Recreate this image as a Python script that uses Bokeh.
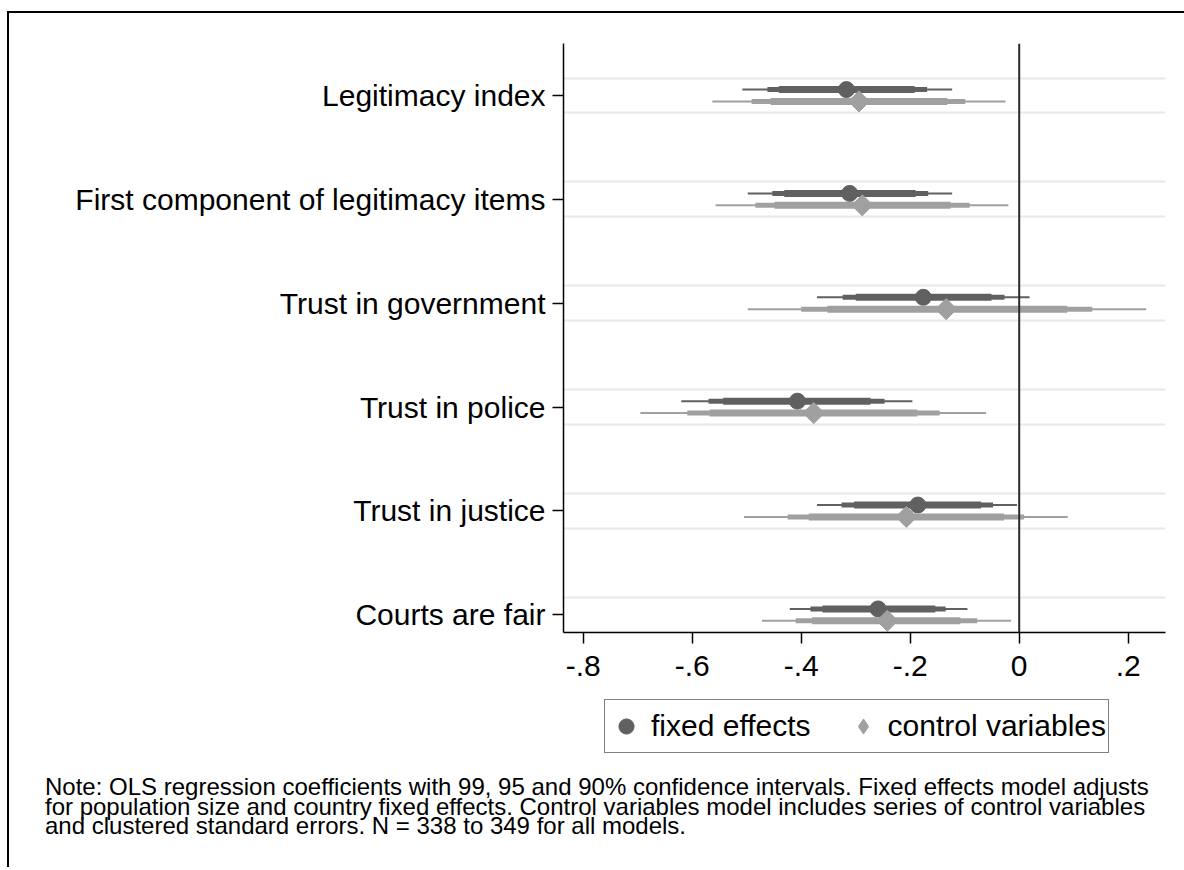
import numpy as np
from bokeh.plotting import figure
from bokeh.layouts import column
from bokeh.models import Range1d, FixedTicker, Span, Legend, LegendItem, Div
from bokeh.embed import file_html
from bokeh.resources import INLINE

categories = ["Legitimacy index", "First component of legitimacy items",
              "Trust in government", "Trust in police", "Trust in justice",
              "Courts are fair"]

fe_coef = [-0.317, -0.311, -0.176, -0.407, -0.186, -0.259]
fe_lo99 = [-0.508, -0.498, -0.371, -0.620, -0.371, -0.421]
fe_hi99 = [-0.123, -0.123, 0.019, -0.196, -0.004, -0.095]
fe_lo95 = [-0.462, -0.453, -0.324, -0.570, -0.326, -0.383]
fe_hi95 = [-0.169, -0.167, -0.027, -0.247, -0.048, -0.135]
fe_lo90 = [-0.441, -0.431, -0.300, -0.543, -0.303, -0.361]
fe_hi90 = [-0.192, -0.190, -0.051, -0.273, -0.070, -0.154]

cv_coef = [-0.294, -0.288, -0.134, -0.377, -0.207, -0.242]
cv_lo99 = [-0.563, -0.557, -0.498, -0.695, -0.505, -0.472]
cv_hi99 = [-0.025, -0.020, 0.233, -0.061, 0.089, -0.015]
cv_lo95 = [-0.491, -0.484, -0.400, -0.609, -0.425, -0.410]
cv_hi95 = [-0.099, -0.091, 0.134, -0.146, 0.009, -0.077]
cv_lo90 = [-0.456, -0.449, -0.352, -0.568, -0.386, -0.380]
cv_hi90 = [-0.132, -0.126, 0.088, -0.187, -0.028, -0.108]

x_ticks = [-0.8, -0.6, -0.4, -0.2, 0, 0.2]
x_tick_labels = ["-.8", "-.6", "-.4", "-.2", "0", ".2"]

series_names = ["fixed effects", "control variables"]

note_lines = [
    "Note: OLS regression coefficients with 99, 95 and 90% confidence intervals. Fixed effects model adjusts",
    "for population size and country fixed effects. Control variables model includes series of control variables",
    "and clustered standard errors. N = 338 to 349 for all models.",
]

FONT = "Liberation Sans"
DARK = "#606060"
LIGHT = "#a0a0a0"

rows = np.arange(1, len(categories) + 1)
OFF = 0.057

# ---------------- main coefficient plot ----------------
p = figure(frame_width=602, frame_height=589, output_backend="svg", toolbar_location=None,
           x_range=Range1d(-0.8361, 0.2684), y_range=Range1d(6.17, 0.4995),
           min_border_left=554, min_border_right=19, min_border_top=30,
           min_border_bottom=62)
p.outline_line_color = None
p.background_fill_color = "white"
p.border_fill_color = "white"
p.xgrid.visible = False
p.ygrid.visible = False

# light horizontal gridlines around each row
grid_pos = list(rows - 0.168) + list(rows + 0.168)
p.hspan(y=grid_pos, line_color="#e8e8e8", line_width=2)

y_fe = list(rows - OFF)
y_cv = list(rows + OFF)

def draw_cis(fig, lo99, hi99, lo95, hi95, lo90, hi90, ys, color):
    fig.segment(x0=lo99, x1=hi99, y0=ys, y1=ys, line_color=color, line_width=2)
    fig.segment(x0=lo95, x1=hi95, y0=ys, y1=ys, line_color=color, line_width=5)
    fig.segment(x0=lo90, x1=hi90, y0=ys, y1=ys, line_color=color, line_width=7)

draw_cis(p, fe_lo99, fe_hi99, fe_lo95, fe_hi95, fe_lo90, fe_hi90, y_fe, DARK)
p.scatter(x=fe_coef, y=y_fe, marker="circle", size=16, fill_color=DARK, line_color=DARK)
draw_cis(p, cv_lo99, cv_hi99, cv_lo95, cv_hi95, cv_lo90, cv_hi90, y_cv, LIGHT)
p.scatter(x=cv_coef, y=y_cv, marker="square", angle=np.pi / 4, size=15,
          fill_color=LIGHT, line_color=LIGHT)

p.add_layout(Span(location=0, dimension="height", line_color="#2a2a2a", line_width=2))

for ax in (p.xaxis[0], p.yaxis[0]):
    ax.axis_line_color = "black"
    ax.axis_line_width = 1.5
    ax.major_tick_line_color = "black"
    ax.major_tick_line_width = 1.5
    ax.major_tick_out = 11
    ax.major_tick_in = 0
    ax.minor_tick_line_color = None
    ax.major_label_text_font = FONT
    ax.major_label_text_font_size = "30px"
    ax.major_label_text_color = "black"

p.xaxis.ticker = FixedTicker(ticks=x_ticks)
p.xaxis.major_label_overrides = dict(zip(x_ticks, x_tick_labels))
p.xaxis.major_label_standoff = 12

p.yaxis.ticker = FixedTicker(ticks=list(rows))
p.yaxis.major_label_overrides = {int(k): c for k, c in zip(rows, categories)}
p.yaxis.major_label_standoff = 7

# ---------------- legend strip (frame aligned with the plot above) ----------------
q = figure(width=1175, height=83, output_backend="svg", toolbar_location=None,
           x_range=Range1d(0, 1), y_range=Range1d(0, 1),
           min_border_left=0, min_border_right=0, min_border_top=0, min_border_bottom=0)
q.axis.visible = False
q.grid.visible = False
q.outline_line_color = None
q.background_fill_color = "white"
q.border_fill_color = "white"

# hidden copies of the markers: they only supply the legend glyphs
leg_fe = q.scatter(x=fe_coef, y=y_fe, marker="circle", fill_color=DARK, line_color=DARK,
                   visible=False)
leg_cv = q.scatter(x=cv_coef, y=y_cv, marker="diamond", fill_color=LIGHT, line_color=LIGHT,
                   visible=False)

legend = Legend(items=[LegendItem(label=series_names[0], renderers=[leg_fe]),
                       LegendItem(label=series_names[1], renderers=[leg_cv])],
                orientation="horizontal", location=(41, 24))
legend.label_text_font = FONT
legend.label_text_font_size = "30px"
legend.label_text_color = "black"
legend.glyph_width = 38
legend.glyph_height = 48
legend.padding = 2
legend.spacing = 33
legend.label_standoff = 6
legend.border_line_color = "black"
legend.border_line_width = 1.5
legend.background_fill_color = "white"
legend.background_fill_alpha = 1
legend.inactive_fill_alpha = 0
legend.margin = 0
legend.click_policy = "none"
q.add_layout(legend, "center")

# ---------------- note ----------------
note = Div(text="<br>".join(note_lines), width=1150, height=90,
           margin=(0, 0, 0, 36),
           styles={"font-family": FONT, "font-size": "24px", "line-height": "19.5px",
                   "color": "black", "white-space": "nowrap"})

layout = column(p, q, note, spacing=0,
                styles={"border-top": "2px solid black", "border-left": "2px solid black",
                        "margin-top": "11px", "margin-left": "7px"})

open("out.html", "w").write(file_html(layout, INLINE))
